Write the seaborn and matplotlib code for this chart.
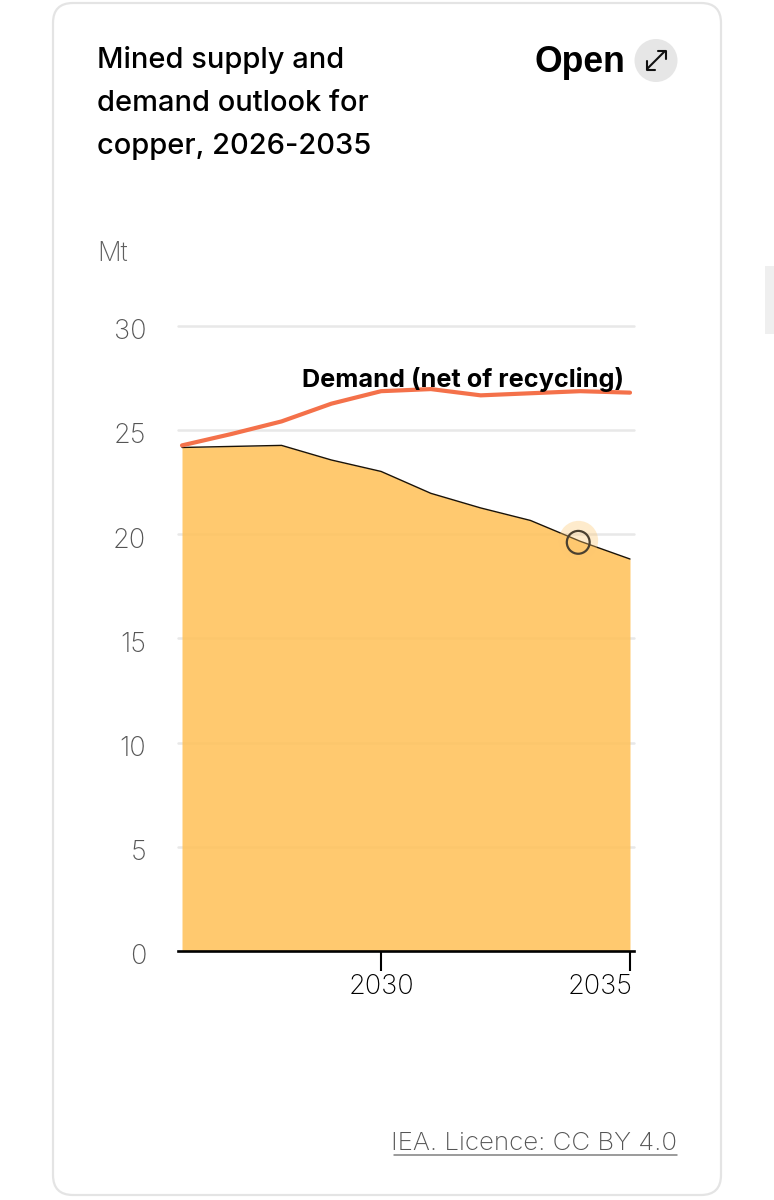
import matplotlib
matplotlib.use("Agg")
import matplotlib.pyplot as plt
from matplotlib.patches import FancyBboxPatch, Circle, Rectangle
from matplotlib.transforms import ScaledTranslation
import seaborn as sns
import pandas as pd

years = [2026, 2027, 2028, 2029, 2030, 2031, 2032, 2033, 2034, 2035]
supply = [24.15, 24.2, 24.25, 23.55, 23.0, 21.95, 21.25, 20.65, 19.65, 18.8]
demand = [24.25, 24.8, 25.4, 26.25, 26.85, 26.95, 26.65, 26.75, 26.85, 26.78]
y_ticks = [0, 5, 10, 15, 20, 25, 30]
x_ticks = [2030, 2035]
title_lines = ["Mined supply and", "demand outlook for", "copper, 2026-2035"]
marker_year = 2033.96
marker_value = 19.6

W, H = 774, 1200
sns.set_theme(style="white")
plt.rcParams["font.family"] = ["Inter", "DejaVu Sans"]
fig = plt.figure(figsize=(W / 100, H / 100), dpi=100, facecolor="white")

# Page furniture, in pixel coordinates
bg = fig.add_axes([0, 0, 1, 1])
bg.set_xlim(0, W)
bg.set_ylim(H, 0)
bg.axis("off")
bg.add_patch(FancyBboxPatch((53, 3), 668, 1192, boxstyle="round,pad=0,rounding_size=20",
                            fc="white", ec="#e4e4e4", lw=1.6))
bg.add_patch(Rectangle((765, 266), 9, 68, fc="#efefef", ec="none"))
for i, line in enumerate(title_lines):
    bg.text(97, 60.5 + 43 * i, line, fontsize=20.9, fontweight="medium", color="black",
            va="center", ha="left")
bg.text(625, 62, "Open", fontsize=25.6, fontweight="bold", color="black", va="center", ha="right",
        family="Liberation Sans")
bg.add_patch(Circle((656, 60.5), 21.5, fc="#e6e6e6", ec="none"))
bg.plot([647, 665], [69, 51], color="#111111", lw=1.5, solid_capstyle="round")
bg.plot([657.5, 665.5, 665.5], [51, 51, 59], color="#111111", lw=1.5)
bg.plot([646.5, 646.5, 654.5], [61, 69.5, 69.5], color="#111111", lw=1.5)
bg.text(97, 254, "Mt", fontsize=19, color="#5f5f5f", va="center", ha="left", fontweight="light")
bg.text(677, 1144, "IEA. Licence: CC BY 4.0", fontsize=18.7, color="#555555", va="center", ha="right",
        fontweight="light")
bg.plot([394, 677], [1154.5, 1154.5], color="#808080", lw=1.1)

# Chart axes: plot area 178-634 px wide, 325.5-951 px high
ax = fig.add_axes([178 / W, 1 - 951 / H, (634 - 178) / W, (951 - 325.5) / H])
ax.patch.set_alpha(0)
px_per_year = (630 - 182) / 9
ax.set_xlim(2026 - 4 / px_per_year, 2035 + 4 / px_per_year)
ax.set_ylim(0, 30)

df = pd.DataFrame({"year": years, "supply": supply, "demand": demand})

for t in y_ticks[1:]:
    ax.axhline(t, color="#e8e8e8", lw=1.8, zorder=0, clip_on=False)

ax.fill_between(df["year"], df["supply"], 0, color="#FFC25B", alpha=0.88, lw=0, zorder=1)
sns.lineplot(data=df, x="year", y="supply", ax=ax, color="#1a1206", lw=1.0, zorder=2, errorbar=None)
sns.lineplot(data=df, x="year", y="demand", ax=ax, color="#F4714A", lw=3.0, zorder=3, errorbar=None)

ax.scatter([marker_year], [marker_value + 0.1], s=800, color="#FDC76F", alpha=0.35, lw=0, zorder=3, clip_on=False)
ax.scatter([marker_year], [marker_value], s=270, facecolor="none", edgecolor="#4a4030", lw=1.6, zorder=4)

ax.text(2034.88, 27.42, "Demand (net of recycling)", fontsize=18.2, fontweight="bold", color="black",
        ha="right", va="center", zorder=5)

ax.set_xlabel("")
ax.set_ylabel("")
for s in ["top", "left", "right"]:
    ax.spines[s].set_visible(False)
ax.spines["bottom"].set_linewidth(1.9)
ax.spines["bottom"].set_color("black")
ax.spines["bottom"].set_zorder(6)

ax.set_yticks(y_ticks)
ax.set_yticklabels([str(v) for v in y_ticks], fontweight="light")
ax.tick_params(axis="y", length=0, pad=23, labelsize=19.5, labelcolor="#555555")
down = ScaledTranslation(0, -3.5 / 100, fig.dpi_scale_trans)
for lab in ax.get_yticklabels():
    lab.set_transform(lab.get_transform() + down)

ax.set_xticks(x_ticks)
ax.set_xticklabels([str(v) for v in x_ticks], fontweight="light")
ax.tick_params(axis="x", length=14.5, width=1.5, color="black", pad=2, labelsize=19.5, labelcolor="black",
               bottom=True)
ax.get_xticklabels()[1].set_ha("right")
ax.get_xticklabels()[1].set_transform(ax.get_xticklabels()[1].get_transform()
                                      + ScaledTranslation(2 / 100, 0, fig.dpi_scale_trans))

fig.savefig("out.png", dpi=100, facecolor="white")
